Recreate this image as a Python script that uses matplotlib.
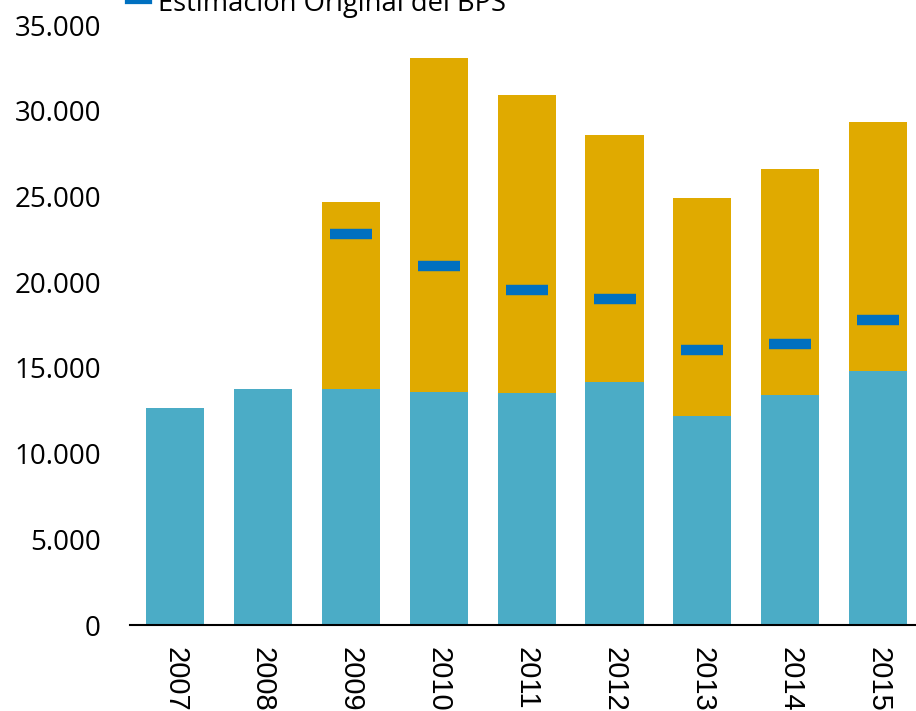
import matplotlib.pyplot as plt
from matplotlib.lines import Line2D
import numpy as np

# datos
years = ['2007', '2008', '2009', '2010', '2011', '2012', '2013', '2014', '2015']
base = [12650, 13750, 13750, 13600, 13530, 14170, 12190, 13420, 14800]
total = [12650, 13750, 24680, 33080, 30920, 28580, 24900, 26600, 29340]
bps = [None, None, 22800, 20950, 19540, 19020, 16040, 16390, 17790]
y_ticks = [0, 5000, 10000, 15000, 20000, 25000, 30000, 35000]
y_labels = ['0', '5.000', '10.000', '15.000', '20.000', '25.000', '30.000', '35.000']

c_base = '#4BACC6'
c_top = '#E0AA00'
c_bps = '#0070C0'

x = np.arange(len(years))
extra = [t - b for t, b in zip(total, base)]
bps_y = [np.nan if v is None else v for v in bps]

fig = plt.figure(figsize=(9.16, 7.11), dpi=100)
ax = fig.add_axes([130 / 916, 86 / 711, 786 / 916, 600 / 711])

ax.bar(x, base, width=0.66, color=c_base)
ax.bar(x, extra, bottom=base, width=0.66, color=c_top)
ax.plot(x, bps_y, linestyle='none', marker='_', markersize=30, markeredgewidth=7.5,
        color=c_bps)

ax.set_xlim(-0.512, 8.43)
ax.set_ylim(0, 35000)
ax.set_yticks(y_ticks)
ax.set_yticklabels(y_labels, fontsize=20, family='Open Sans')
ax.set_xticks(x)
ax.set_xticklabels(years, rotation=-90, fontsize=21, family='Liberation Sans', va='top')
ax.tick_params(axis='both', length=0)
ax.tick_params(axis='y', pad=21)
ax.tick_params(axis='x', pad=16)

for s in ['top', 'right', 'left']:
    ax.spines[s].set_visible(False)
ax.spines['bottom'].set_linewidth(1.5)
ax.spines['bottom'].set_color('black')

handle = Line2D([], [], color=c_bps, lw=4.5)
fig.legend([handle], ['Estimación Original del BPS'], loc='lower left',
           bbox_to_anchor=(128 / 916, 1 - 18 / 711), frameon=False,
           prop={'family': 'Open Sans', 'size': 19.7}, handlelength=0.75, handletextpad=0.35,
           borderaxespad=0, borderpad=0)

fig.savefig('out.png', dpi=100)
